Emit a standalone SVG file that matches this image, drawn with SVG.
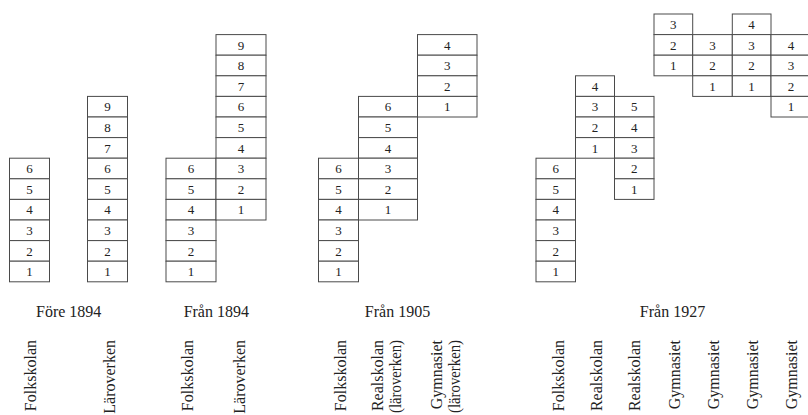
<svg xmlns="http://www.w3.org/2000/svg" width="808" height="415" viewBox="0 0 808 415">
  <style>
    .cell { fill: #ffffff; stroke: #4a4a4a; stroke-width: 1; }
    .num { font-family: "Liberation Serif", "DejaVu Serif", serif; font-size: 13px; fill: #222; text-anchor: middle; }
    .title { font-family: "Liberation Serif", "DejaVu Serif", serif; font-size: 16px; fill: #222; text-anchor: middle; }
    .vlab { font-family: "Liberation Serif", "DejaVu Serif", serif; font-size: 16px; fill: #222; text-anchor: end; }
  </style>
  <rect width="808" height="415" fill="#ffffff"/>

  <!-- Före 1894 -->
  <g id="s1-folkskolan">
    <rect class="cell" x="9.5" y="158.2" width="40" height="20.6"/>
    <rect class="cell" x="9.5" y="178.8" width="40" height="20.6"/>
    <rect class="cell" x="9.5" y="199.4" width="40" height="20.6"/>
    <rect class="cell" x="9.5" y="220" width="40" height="20.6"/>
    <rect class="cell" x="9.5" y="240.6" width="40" height="20.6"/>
    <rect class="cell" x="9.5" y="261.2" width="40" height="20.6"/>
    <text class="num" x="29.5" y="173.2">6</text>
    <text class="num" x="29.5" y="193.8">5</text>
    <text class="num" x="29.5" y="214.4">4</text>
    <text class="num" x="29.5" y="235">3</text>
    <text class="num" x="29.5" y="255.6">2</text>
    <text class="num" x="29.5" y="276.2">1</text>
  </g>
  <g id="s1-laroverken">
    <rect class="cell" x="87.5" y="96.4" width="40" height="20.6"/>
    <rect class="cell" x="87.5" y="117" width="40" height="20.6"/>
    <rect class="cell" x="87.5" y="137.6" width="40" height="20.6"/>
    <rect class="cell" x="87.5" y="158.2" width="40" height="20.6"/>
    <rect class="cell" x="87.5" y="178.8" width="40" height="20.6"/>
    <rect class="cell" x="87.5" y="199.4" width="40" height="20.6"/>
    <rect class="cell" x="87.5" y="220" width="40" height="20.6"/>
    <rect class="cell" x="87.5" y="240.6" width="40" height="20.6"/>
    <rect class="cell" x="87.5" y="261.2" width="40" height="20.6"/>
    <text class="num" x="107.5" y="111.4">9</text>
    <text class="num" x="107.5" y="132">8</text>
    <text class="num" x="107.5" y="152.6">7</text>
    <text class="num" x="107.5" y="173.2">6</text>
    <text class="num" x="107.5" y="193.8">5</text>
    <text class="num" x="107.5" y="214.4">4</text>
    <text class="num" x="107.5" y="235">3</text>
    <text class="num" x="107.5" y="255.6">2</text>
    <text class="num" x="107.5" y="276.2">1</text>
  </g>

  <!-- Från 1894 -->
  <g id="s2-folkskolan">
    <rect class="cell" x="166" y="158.2" width="50" height="20.6"/>
    <rect class="cell" x="166" y="178.8" width="50" height="20.6"/>
    <rect class="cell" x="166" y="199.4" width="50" height="20.6"/>
    <rect class="cell" x="166" y="220" width="50" height="20.6"/>
    <rect class="cell" x="166" y="240.6" width="50" height="20.6"/>
    <rect class="cell" x="166" y="261.2" width="50" height="20.6"/>
    <text class="num" x="191" y="173.2">6</text>
    <text class="num" x="191" y="193.8">5</text>
    <text class="num" x="191" y="214.4">4</text>
    <text class="num" x="191" y="235">3</text>
    <text class="num" x="191" y="255.6">2</text>
    <text class="num" x="191" y="276.2">1</text>
  </g>
  <g id="s2-laroverken">
    <rect class="cell" x="216" y="34.6" width="50" height="20.6"/>
    <rect class="cell" x="216" y="55.2" width="50" height="20.6"/>
    <rect class="cell" x="216" y="75.8" width="50" height="20.6"/>
    <rect class="cell" x="216" y="96.4" width="50" height="20.6"/>
    <rect class="cell" x="216" y="117" width="50" height="20.6"/>
    <rect class="cell" x="216" y="137.6" width="50" height="20.6"/>
    <rect class="cell" x="216" y="158.2" width="50" height="20.6"/>
    <rect class="cell" x="216" y="178.8" width="50" height="20.6"/>
    <rect class="cell" x="216" y="199.4" width="50" height="20.6"/>
    <text class="num" x="241" y="49.6">9</text>
    <text class="num" x="241" y="70.2">8</text>
    <text class="num" x="241" y="90.8">7</text>
    <text class="num" x="241" y="111.4">6</text>
    <text class="num" x="241" y="132">5</text>
    <text class="num" x="241" y="152.6">4</text>
    <text class="num" x="241" y="173.2">3</text>
    <text class="num" x="241" y="193.8">2</text>
    <text class="num" x="241" y="214.4">1</text>
  </g>

  <!-- Från 1905 -->
  <g id="s3-folkskolan">
    <rect class="cell" x="318.5" y="158.2" width="40" height="20.6"/>
    <rect class="cell" x="318.5" y="178.8" width="40" height="20.6"/>
    <rect class="cell" x="318.5" y="199.4" width="40" height="20.6"/>
    <rect class="cell" x="318.5" y="220" width="40" height="20.6"/>
    <rect class="cell" x="318.5" y="240.6" width="40" height="20.6"/>
    <rect class="cell" x="318.5" y="261.2" width="40" height="20.6"/>
    <text class="num" x="338.5" y="173.2">6</text>
    <text class="num" x="338.5" y="193.8">5</text>
    <text class="num" x="338.5" y="214.4">4</text>
    <text class="num" x="338.5" y="235">3</text>
    <text class="num" x="338.5" y="255.6">2</text>
    <text class="num" x="338.5" y="276.2">1</text>
  </g>
  <g id="s3-realskolan">
    <rect class="cell" x="358.5" y="96.4" width="59" height="20.6"/>
    <rect class="cell" x="358.5" y="117" width="59" height="20.6"/>
    <rect class="cell" x="358.5" y="137.6" width="59" height="20.6"/>
    <rect class="cell" x="358.5" y="158.2" width="59" height="20.6"/>
    <rect class="cell" x="358.5" y="178.8" width="59" height="20.6"/>
    <rect class="cell" x="358.5" y="199.4" width="59" height="20.6"/>
    <text class="num" x="388" y="111.4">6</text>
    <text class="num" x="388" y="132">5</text>
    <text class="num" x="388" y="152.6">4</text>
    <text class="num" x="388" y="173.2">3</text>
    <text class="num" x="388" y="193.8">2</text>
    <text class="num" x="388" y="214.4">1</text>
  </g>
  <g id="s3-gymnasiet">
    <rect class="cell" x="417.5" y="34.6" width="59.5" height="20.6"/>
    <rect class="cell" x="417.5" y="55.2" width="59.5" height="20.6"/>
    <rect class="cell" x="417.5" y="75.8" width="59.5" height="20.6"/>
    <rect class="cell" x="417.5" y="96.4" width="59.5" height="20.6"/>
    <text class="num" x="447.2" y="49.6">4</text>
    <text class="num" x="447.2" y="70.2">3</text>
    <text class="num" x="447.2" y="90.8">2</text>
    <text class="num" x="447.2" y="111.4">1</text>
  </g>

  <!-- Från 1927 -->
  <g id="s4-folkskolan">
    <rect class="cell" x="536" y="158.2" width="39.5" height="20.6"/>
    <rect class="cell" x="536" y="178.8" width="39.5" height="20.6"/>
    <rect class="cell" x="536" y="199.4" width="39.5" height="20.6"/>
    <rect class="cell" x="536" y="220" width="39.5" height="20.6"/>
    <rect class="cell" x="536" y="240.6" width="39.5" height="20.6"/>
    <rect class="cell" x="536" y="261.2" width="39.5" height="20.6"/>
    <text class="num" x="555.7" y="173.2">6</text>
    <text class="num" x="555.7" y="193.8">5</text>
    <text class="num" x="555.7" y="214.4">4</text>
    <text class="num" x="555.7" y="235">3</text>
    <text class="num" x="555.7" y="255.6">2</text>
    <text class="num" x="555.7" y="276.2">1</text>
  </g>
  <g id="s4-realskolan-a">
    <rect class="cell" x="575.5" y="75.8" width="39" height="20.6"/>
    <rect class="cell" x="575.5" y="96.4" width="39" height="20.6"/>
    <rect class="cell" x="575.5" y="117" width="39" height="20.6"/>
    <rect class="cell" x="575.5" y="137.6" width="39" height="20.6"/>
    <text class="num" x="595" y="90.8">4</text>
    <text class="num" x="595" y="111.4">3</text>
    <text class="num" x="595" y="132">2</text>
    <text class="num" x="595" y="152.6">1</text>
  </g>
  <g id="s4-realskolan-b">
    <rect class="cell" x="614.5" y="96.4" width="39.5" height="20.6"/>
    <rect class="cell" x="614.5" y="117" width="39.5" height="20.6"/>
    <rect class="cell" x="614.5" y="137.6" width="39.5" height="20.6"/>
    <rect class="cell" x="614.5" y="158.2" width="39.5" height="20.6"/>
    <rect class="cell" x="614.5" y="178.8" width="39.5" height="20.6"/>
    <text class="num" x="634.2" y="111.4">5</text>
    <text class="num" x="634.2" y="132">4</text>
    <text class="num" x="634.2" y="152.6">3</text>
    <text class="num" x="634.2" y="173.2">2</text>
    <text class="num" x="634.2" y="193.8">1</text>
  </g>
  <g id="s4-gymnasiet-a">
    <rect class="cell" x="654" y="14" width="38.7" height="20.6"/>
    <rect class="cell" x="654" y="34.6" width="38.7" height="20.6"/>
    <rect class="cell" x="654" y="55.2" width="38.7" height="20.6"/>
    <text class="num" x="673.3" y="29">3</text>
    <text class="num" x="673.3" y="49.6">2</text>
    <text class="num" x="673.3" y="70.2">1</text>
  </g>
  <g id="s4-gymnasiet-b">
    <rect class="cell" x="692.7" y="34.6" width="39.6" height="20.6"/>
    <rect class="cell" x="692.7" y="55.2" width="39.6" height="20.6"/>
    <rect class="cell" x="692.7" y="75.8" width="39.6" height="20.6"/>
    <text class="num" x="712.5" y="49.6">3</text>
    <text class="num" x="712.5" y="70.2">2</text>
    <text class="num" x="712.5" y="90.8">1</text>
  </g>
  <g id="s4-gymnasiet-c">
    <rect class="cell" x="732.3" y="14" width="38.7" height="20.6"/>
    <rect class="cell" x="732.3" y="34.6" width="38.7" height="20.6"/>
    <rect class="cell" x="732.3" y="55.2" width="38.7" height="20.6"/>
    <rect class="cell" x="732.3" y="75.8" width="38.7" height="20.6"/>
    <text class="num" x="751.6" y="29">4</text>
    <text class="num" x="751.6" y="49.6">3</text>
    <text class="num" x="751.6" y="70.2">2</text>
    <text class="num" x="751.6" y="90.8">1</text>
  </g>
  <g id="s4-gymnasiet-d">
    <rect class="cell" x="771" y="34.6" width="40" height="20.6"/>
    <rect class="cell" x="771" y="55.2" width="40" height="20.6"/>
    <rect class="cell" x="771" y="75.8" width="40" height="20.6"/>
    <rect class="cell" x="771" y="96.4" width="40" height="20.6"/>
    <text class="num" x="791" y="49.6">4</text>
    <text class="num" x="791" y="70.2">3</text>
    <text class="num" x="791" y="90.8">2</text>
    <text class="num" x="791" y="111.4">1</text>
  </g>

  <!-- period headings -->
  <g id="headings">
    <text class="title" x="68.7" y="316.5">Före 1894</text>
    <text class="title" x="216.3" y="316.5">Från 1894</text>
    <text class="title" x="397.5" y="316.5">Från 1905</text>
    <text class="title" x="672.5" y="316.5">Från 1927</text>
  </g>

  <!-- school-form labels, reading upwards -->
  <g id="labels">
    <text class="vlab" transform="translate(35.5,340) rotate(-90)">Folkskolan</text>
    <text class="vlab" transform="translate(114.5,340) rotate(-90)">Läroverken</text>
    <text class="vlab" transform="translate(193,340) rotate(-90)">Folkskolan</text>
    <text class="vlab" transform="translate(245,340) rotate(-90)">Läroverken</text>
    <text class="vlab" transform="translate(346,340) rotate(-90)">Folkskolan</text>
    <text class="vlab" transform="translate(383,340) rotate(-90)">Realskolan</text>
    <text class="vlab" transform="translate(401,340) rotate(-90)" textLength="73" lengthAdjust="spacingAndGlyphs">(läroverken)</text>
    <text class="vlab" transform="translate(442,340) rotate(-90)">Gymnasiet</text>
    <text class="vlab" transform="translate(460,340) rotate(-90)" textLength="73" lengthAdjust="spacingAndGlyphs">(läroverken)</text>
    <text class="vlab" transform="translate(564,340) rotate(-90)">Folkskolan</text>
    <text class="vlab" transform="translate(602,340) rotate(-90)">Realskolan</text>
    <text class="vlab" transform="translate(640,340) rotate(-90)">Realskolan</text>
    <text class="vlab" transform="translate(680,340) rotate(-90)">Gymnasiet</text>
    <text class="vlab" transform="translate(719,340) rotate(-90)">Gymnasiet</text>
    <text class="vlab" transform="translate(758,340) rotate(-90)">Gymnasiet</text>
    <text class="vlab" transform="translate(797,340) rotate(-90)">Gymnasiet</text>
  </g>
</svg>
